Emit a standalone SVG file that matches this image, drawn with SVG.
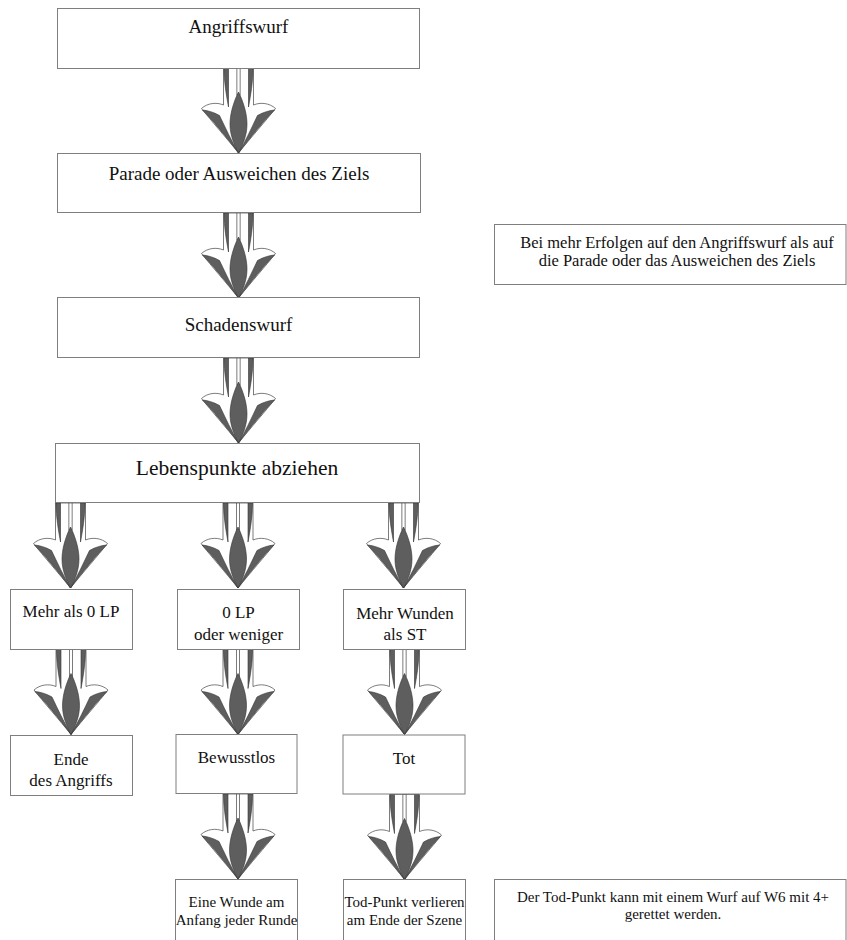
<svg xmlns="http://www.w3.org/2000/svg" xmlns:xlink="http://www.w3.org/1999/xlink" width="847" height="940" viewBox="0 0 847 940">
<style>
.box{fill:#fff;stroke:#7f7f7f;stroke-width:1}
text{font-family:'Liberation Serif','DejaVu Serif',serif;fill:#111;text-anchor:middle}
.t18{font-size:19px}
.t21{font-size:21.5px}
.t17{font-size:17px}
.t15{font-size:15px}
.t16{font-size:16.5px}
.t14{font-size:15px}
.aw{fill:#fff;stroke:#444;stroke-width:0.7}
.ad{fill:#5e5e5e;stroke:#333;stroke-width:0.6}
</style>
<defs>
<g id="arrow">
<path class="aw" d="M -15,0 L 15,0 L 15,37 C 22,34 31,35 37,40.5 C 28,52 12,70 0,85 C -12,70 -28,52 -37,40.5 C -31,35 -22,34 -15,37 Z"/>
<path class="ad" d="M -36,42 C -27,51 -12,69 0,85 C -7,73 -13,60 -19,47.5 C -25,44 -31,42.5 -36,42 Z"/>
<path class="ad" d="M 36,42 C 27,51 12,69 0,85 C 7,73 13,60 19,47.5 C 25,44 31,42.5 36,42 Z"/>
<path class="ad" d="M -14.5,0 H -10 V 39 C -12,28 -14.5,14 -14.5,0 Z"/>
<path class="ad" d="M 14.5,0 H 10 V 39 C 12,28 14.5,14 14.5,0 Z"/>
<rect class="aw" x="-1.6" y="0" width="3.2" height="27"/>
<path class="ad" d="M 0,24 C 5,34 8.5,46 8.5,56 C 8.5,68 4,77 0,85 C -4,77 -8.5,68 -8.5,56 C -8.5,46 -5,34 0,24 Z"/>
</g>
</defs>
<rect width="847" height="940" fill="#fff"/>
<g id="connectors">
<use xlink:href="#arrow" transform="translate(238.5,68)"/>
<use xlink:href="#arrow" transform="translate(238.5,213)"/>
<use xlink:href="#arrow" transform="translate(238.5,358)"/>
<use xlink:href="#arrow" transform="translate(70.5,503)"/>
<use xlink:href="#arrow" transform="translate(238,503)"/>
<use xlink:href="#arrow" transform="translate(403.5,503)"/>
<use xlink:href="#arrow" transform="translate(71,649.5)"/>
<use xlink:href="#arrow" transform="translate(238,649.5)"/>
<use xlink:href="#arrow" transform="translate(404.5,649.5)"/>
<use xlink:href="#arrow" transform="translate(238,794)"/>
<use xlink:href="#arrow" transform="translate(404.5,794.5)"/>
</g>
<g id="n1"><rect class="box" x="57.5" y="8.5" width="362" height="60"/><text class="t18" x="238.5" y="33">Angriffswurf</text></g>
<g id="n2"><rect class="box" x="57.5" y="153.5" width="363" height="59"/><text class="t18" x="239" y="180">Parade oder Ausweichen des Ziels</text></g>
<g id="n3"><rect class="box" x="57.5" y="297.5" width="362" height="60"/><text class="t18" x="238.5" y="331">Schadenswurf</text></g>
<g id="n4"><rect class="box" x="55.5" y="443.5" width="364" height="59"/><text class="t21" x="237" y="475">Lebenspunkte abziehen</text></g>
<g id="n5"><rect class="box" x="10.5" y="589.5" width="122" height="60"/><text class="t17" x="71" y="617">Mehr als 0 LP</text></g>
<g id="n6"><rect class="box" x="177.5" y="589.5" width="122" height="60"/><text class="t17" x="238.5" y="618">0 LP</text><text class="t17" x="238.5" y="640">oder weniger</text></g>
<g id="n7"><rect class="box" x="343.5" y="589.5" width="122" height="60"/><text class="t17" x="405" y="619">Mehr Wunden</text><text class="t17" x="405" y="640">als ST</text></g>
<g id="n8"><rect class="box" x="10.5" y="735.5" width="122" height="60"/><text class="t17" x="71" y="765">Ende</text><text class="t17" x="71" y="786">des Angriffs</text></g>
<g id="n9"><rect class="box" x="176" y="734.5" width="121" height="59"/><text class="t17" x="236.5" y="763">Bewusstlos</text></g>
<g id="n10"><rect class="box" x="343" y="735" width="122" height="59"/><text class="t17" x="404" y="764">Tot</text></g>
<g id="n11"><rect class="box" x="175.5" y="879.5" width="122" height="70"/><text class="t15" x="236.5" y="907">Eine Wunde am</text><text class="t15" x="236.5" y="925">Anfang jeder Runde</text></g>
<g id="n12"><rect class="box" x="343.5" y="879.5" width="122" height="70"/><text class="t15" x="404.5" y="907">Tod-Punkt verlieren</text><text class="t15" x="404.5" y="925">am Ende der Szene</text></g>
<g id="n13"><rect class="box" x="494.5" y="879.5" width="351.5" height="70"/><text class="t14" x="673" y="902">Der Tod-Punkt kann mit einem Wurf auf W6 mit 4+</text><text class="t14" x="673" y="918.5">gerettet werden.</text></g>
<g id="n14"><rect class="box" x="494.5" y="224.5" width="351.5" height="60"/><text class="t16" x="677" y="247.5">Bei mehr Erfolgen auf den Angriffswurf als auf</text><text class="t16" x="677" y="266">die Parade oder das Ausweichen des Ziels</text></g>
</svg>
